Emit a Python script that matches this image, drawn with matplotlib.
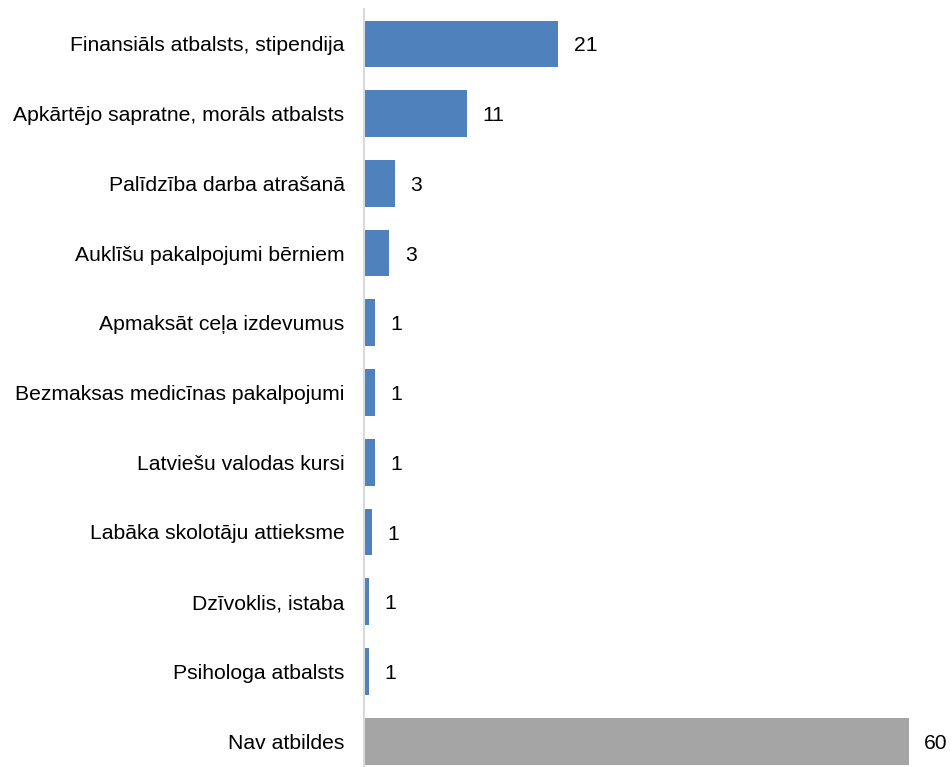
import matplotlib
matplotlib.use("Agg")
from matplotlib import pyplot as plt

plt.rcParams['font.family'] = ['Liberation Sans', 'DejaVu Sans']

categories = [
    "Finansiāls atbalsts, stipendija",
    "Apkārtējo sapratne, morāls atbalsts",
    "Palīdzība darba atrašanā",
    "Auklīšu pakalpojumi bērniem",
    "Apmaksāt ceļa izdevumus",
    "Bezmaksas medicīnas pakalpojumi",
    "Latviešu valodas kursi",
    "Labāka skolotāju attieksme",
    "Dzīvoklis, istaba",
    "Psihologa atbalsts",
    "Nav atbildes",
]
values = [21.4, 11.3, 3.4, 2.8, 1.2, 1.2, 1.2, 0.9, 0.55, 0.55, 60.0]
colors = ["#4F81BD"] * 10 + ["#A5A5A5"]

fig = plt.figure(figsize=(9.52, 7.67), dpi=100)
ax = fig.add_axes([364 / 952, 0, 1 - 364 / 952, 1 - 9 / 767])

pos = list(range(len(categories)))
ax.barh(pos, values, height=0.67, color=colors, zorder=2)

# value labels just past the bar ends
for y, v in zip(pos, values):
    ax.annotate(f"{v:.0f}", xy=(v, y), xytext=(11, -1.5),
                textcoords="offset points", ha="left", va="center",
                fontsize=15.2, color="#000000")

ax.set_xlim(0, 588 / 9.08)
ax.set_ylim(10.37, -0.5)
ax.set_yticks(pos)
ax.set_yticklabels(categories, fontsize=15.2)
ax.tick_params(axis="y", length=0, pad=14)
ax.set_xticks([])

for side in ["top", "right", "bottom"]:
    ax.spines[side].set_visible(False)
ax.spines["left"].set_color("#D9D9D9")
ax.spines["left"].set_linewidth(1.5)

fig.savefig("out.png", dpi=100)
